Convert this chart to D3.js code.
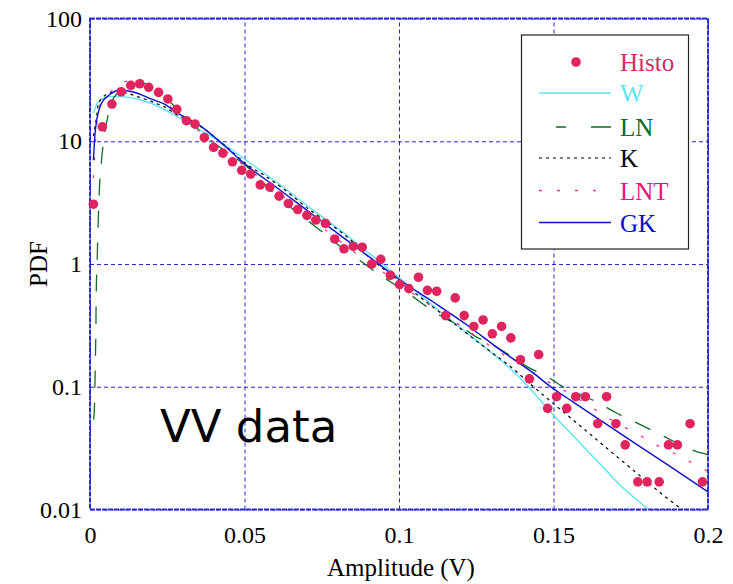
<!DOCTYPE html>
<html lang="en">
<head>
  <meta charset="UTF-8">
  <title>VV data PDF</title>
  <script src="https://d3js.org/d3.v7.min.js"></script>
  <style>
    body { margin: 0; background: #fff; }
    svg { display: block; }
    .tick text { font-family: "Liberation Serif", "Times New Roman", serif; font-size: 24px; fill: #000; }
    .grid line { stroke: #2626d6; stroke-width: 1; stroke-dasharray: 4,3; }
    .curve { fill: none; }
    .lab { font-family: "Liberation Serif", "Times New Roman", serif; font-size: 25px; }
  </style>
</head>
<body>
  <svg id="chart" width="733" height="584"></svg>

  <script>
    // histogram points (amplitude in V, pdf)
    const histoX = [0.0011, 0.0040, 0.0071, 0.0101, 0.0132, 0.0161, 0.0190, 0.0222, 0.0252, 0.0281,
      0.0312, 0.0340, 0.0370, 0.0400, 0.0430, 0.0461, 0.0491, 0.0520, 0.0551, 0.0582,
      0.0612, 0.0642, 0.0672, 0.0702, 0.0731, 0.0762, 0.0792, 0.0822, 0.0852, 0.0881,
      0.0912, 0.0941, 0.0972, 0.1002, 0.1032, 0.1063, 0.1092, 0.1122, 0.1151, 0.1182,
      0.1211, 0.1242, 0.1272, 0.1302, 0.1332, 0.1362, 0.1393, 0.1422, 0.1452, 0.1481,
      0.1510, 0.1543, 0.1572, 0.1603, 0.1643, 0.1672, 0.1702, 0.1732, 0.1773, 0.1803,
      0.1842, 0.1872, 0.1901, 0.1942, 0.1982];
    const histoY = [3.07, 13.1, 20.1, 25.3, 28.5, 29.4, 27.5, 25, 22.1, 18.2,
      14.7, 13.8, 10.7, 8.9, 8.0, 6.8, 5.8, 5.4, 4.41, 4.23,
      3.57, 3.11, 2.78, 2.49, 2.28, 2.14, 1.6, 1.33, 1.39, 1.37,
      1.0, 1.09, 0.81, 0.68, 0.63, 0.78, 0.61, 0.6, 0.38, 0.53,
      0.38, 0.31, 0.35, 0.27, 0.31, 0.25, 0.166, 0.116, 0.183, 0.0667,
      0.083, 0.0667, 0.083, 0.083, 0.05, 0.083, 0.05, 0.0336, 0.0168, 0.0168,
      0.0168, 0.0336, 0.0336, 0.05, 0.0168];

    // fitted curves
    const wX = [0.0011, 0.0022, 0.0032, 0.0052, 0.0071, 0.0113, 0.0162, 0.0201, 0.0275, 0.0340,
      0.0414, 0.0492, 0.0592, 0.0702, 0.0809, 0.0916, 0.1003, 0.1133, 0.1262, 0.1392,
      0.1498, 0.1563, 0.1650, 0.1715, 0.1806];
    const wY = [17, 20, 21.5, 22.8, 23.2, 23, 21.8, 20.2, 16.3, 13,
      10.2, 7.4, 4.88, 3.0, 1.89, 1.15, 0.765, 0.41, 0.226, 0.118,
      0.0595, 0.040, 0.0236, 0.0158, 0.0101];

    const lnX = [0.0012, 0.0015, 0.0017, 0.0019, 0.0020, 0.0023, 0.0026, 0.0030, 0.0038, 0.0045,
      0.0058, 0.0071, 0.0091, 0.0117, 0.0142, 0.0168, 0.0210, 0.0265, 0.0307, 0.0388,
      0.0518, 0.0589, 0.0702, 0.0751, 0.0832, 0.0864, 0.0922, 0.0971, 0.1029, 0.1084,
      0.1159, 0.1191, 0.1256, 0.1288, 0.1366, 0.1414, 0.1479, 0.1531, 0.1586, 0.1641,
      0.1699, 0.1754, 0.1812, 0.1861, 0.1919, 0.1974, 0.2000];
    const lnY = [0.054, 0.078, 0.146, 0.29, 0.54, 1.04, 1.96, 3.85, 7.3, 10.5,
      16, 21, 25, 29, 30.5, 30, 26, 20.2, 15.7, 10.3,
      5.9, 3.9, 2.28, 1.83, 1.26, 1.11, 0.87, 0.72, 0.58, 0.46,
      0.35, 0.32, 0.25, 0.23, 0.175, 0.146, 0.121, 0.1, 0.086, 0.075,
      0.062, 0.053, 0.045, 0.039, 0.033, 0.029, 0.028];

    const kX = [0.0011, 0.0022, 0.0027, 0.0043, 0.0065, 0.0091, 0.0123, 0.0155, 0.0188, 0.0217,
      0.0243, 0.0275, 0.0356, 0.0437, 0.0511, 0.0573, 0.0631, 0.0712, 0.0767, 0.0825,
      0.0906, 0.1003, 0.1126, 0.1239, 0.1300, 0.1354, 0.1435, 0.1494, 0.1575, 0.1629,
      0.1688, 0.1742, 0.1796, 0.1855, 0.1909, 0.1937];
    const kY = [11, 16.3, 20, 23, 24.8, 25.2, 24.5, 23, 21.6, 20.2,
      19, 16.8, 13.3, 9.2, 6.4, 5.1, 4.0, 2.75, 2.2, 1.72,
      1.12, 0.72, 0.415, 0.249, 0.19, 0.151, 0.1, 0.075, 0.0507, 0.0391,
      0.0293, 0.0226, 0.0174, 0.0131, 0.0103, 0.0091];

    const lntX = [0.0011, 0.0014, 0.0016, 0.0022, 0.0026, 0.0032, 0.0049, 0.0065, 0.0087, 0.0107,
      0.0129, 0.0162, 0.0210, 0.0275, 0.0388, 0.0518, 0.0599, 0.0696, 0.0777, 0.0883,
      0.0945, 0.1052, 0.1107, 0.1220, 0.1327, 0.1447, 0.1498, 0.1553, 0.1608, 0.1660,
      0.1715, 0.1773, 0.1828, 0.1887, 0.1948, 0.2000];
    const lntY = [5, 6.8, 8.5, 14, 17, 19.5, 22.5, 25, 28.5, 30.5,
      31, 29.5, 25, 17.5, 10.4, 5.8, 4.0, 2.55, 1.77, 1.11,
      0.87, 0.56, 0.45, 0.29, 0.19, 0.125, 0.104, 0.088, 0.072, 0.059,
      0.049, 0.041, 0.034, 0.029, 0.024, 0.0205];

    const gkX = [0.0011, 0.0016, 0.0023, 0.0032, 0.0043, 0.0059, 0.0086, 0.0104, 0.0140, 0.0200,
      0.0248, 0.0275, 0.0356, 0.0437, 0.0485, 0.0523, 0.0593, 0.0701, 0.0809, 0.0917,
      0.1003, 0.1111, 0.1219, 0.1327, 0.1435, 0.1498, 0.1564, 0.1672, 0.1780, 0.1888, 0.2000];
    const gkY = [7.0, 11.3, 15.5, 19, 21.5, 23.5, 25.8, 26, 25.2, 22,
      19.6, 17.5, 13.4, 9.1, 7.1, 5.9, 4.4, 2.75, 1.72, 1.08,
      0.74, 0.49, 0.32, 0.2, 0.129, 0.097, 0.075, 0.0494, 0.0325, 0.0215, 0.0139];

    const xTicks = [0, 0.05, 0.1, 0.15, 0.2];
    const yTicks = [0.01, 0.1, 1, 10, 100];

    const svg = d3.select("#chart");
    const plotL = 90, plotR = 708, plotT = 18.5, plotB = 509.5;

    const x = d3.scaleLinear().domain([0, 0.2]).range([plotL, plotR]);
    const y = d3.scaleLog().domain([0.01, 100]).range([plotB, plotT]);

    svg.append("defs").append("clipPath").attr("id", "plotclip")
      .append("rect").attr("x", plotL).attr("y", plotT)
      .attr("width", plotR - plotL).attr("height", plotB - plotT);

    // grid + tick labels
    const xAxis = svg.append("g").attr("class", "grid")
      .attr("transform", `translate(0,${plotB})`)
      .call(d3.axisBottom(x).tickValues(xTicks).tickFormat(d3.format("~g"))
        .tickSizeInner(-(plotB - plotT)).tickSizeOuter(0).tickPadding(16));
    xAxis.select(".domain").remove();

    const yAxis = svg.append("g").attr("class", "grid")
      .attr("transform", `translate(${plotL},0)`)
      .call(d3.axisLeft(y).tickValues(yTicks).tickFormat(d3.format("~g"))
        .tickSizeInner(-(plotR - plotL)).tickSizeOuter(0).tickPadding(8));
    yAxis.select(".domain").remove();

    // frame
    svg.append("rect")
      .attr("x", plotL).attr("y", plotT)
      .attr("width", plotR - plotL).attr("height", plotB - plotT)
      .attr("fill", "none").attr("stroke", "#2a2ad4").attr("stroke-width", 2)
      .attr("stroke-dasharray", "5,1");

    const line = d3.line()
      .x(d => x(d[0]))
      .y(d => y(d[1]))
      .curve(d3.curveMonotoneX);

    const series = [
      { name: "W", xs: wX, ys: wY, color: "#5fe3ef", width: 1.4, dash: null },
      { name: "LN", xs: lnX, ys: lnY, color: "#0d6b26", width: 1.3, dash: "17,15" },
      { name: "K", xs: kX, ys: kY, color: "#000000", width: 1.2, dash: "3,4" },
      { name: "LNT", xs: lntX, ys: lntY, color: "#f0348f", width: 1.3, dash: "3,15" },
      { name: "GK", xs: gkX, ys: gkY, color: "#1010d0", width: 1.4, dash: null }
    ];

    const curves = svg.append("g").attr("clip-path", "url(#plotclip)");
    series.forEach(s => {
      curves.append("path")
        .attr("class", "curve")
        .attr("d", line(s.xs.map((v, i) => [v, s.ys[i]])))
        .attr("stroke", s.color)
        .attr("stroke-width", s.width)
        .attr("stroke-dasharray", s.dash);
    });

    // histogram dots
    svg.append("g").selectAll("circle")
      .data(histoX.map((v, i) => [v, histoY[i]]))
      .join("circle")
      .attr("cx", d => x(d[0]))
      .attr("cy", d => y(d[1]))
      .attr("r", 4.8)
      .attr("fill", "#e0245e");

    // axis titles
    svg.append("text").attr("class", "lab")
      .attr("x", (plotL + plotR) / 2 + 2).attr("y", 576)
      .attr("text-anchor", "middle").text("Amplitude (V)");
    svg.append("text").attr("class", "lab")
      .attr("transform", "translate(47,264) rotate(-90)")
      .attr("text-anchor", "middle").text("PDF");

    svg.append("text")
      .attr("x", 160).attr("y", 442)
      .attr("font-family", "'Comic Sans MS', 'DejaVu Sans', sans-serif")
      .attr("font-size", 45)
      .attr("fill", "#000")
      .text("VV data");

    // legend
    const lg = svg.append("g");
    lg.append("rect")
      .attr("x", 521.5).attr("y", 35).attr("width", 167).attr("height", 214)
      .attr("fill", "#fff").attr("stroke", "#222").attr("stroke-width", 1.2);

    const legendItems = [
      { label: "Histo", color: "#d92a5e", type: "dot" },
      { label: "W", color: "#5fe3ef", type: "line", s: series[0] },
      { label: "LN", color: "#0d6b26", type: "line", s: series[1] },
      { label: "K", color: "#000000", type: "line", s: series[2] },
      { label: "LNT", color: "#e8157c", type: "line", s: series[3] },
      { label: "GK", color: "#0a0ad0", type: "line", s: series[4] }
    ];
    const rowY = [62, 93, 127, 158, 190.5, 222.5];
    legendItems.forEach((it, i) => {
      const yy = rowY[i];
      if (it.type === "dot") {
        lg.append("circle").attr("cx", 576).attr("cy", yy).attr("r", 4.8).attr("fill", "#e0245e");
      } else {
        lg.append("line")
          .attr("x1", 539).attr("x2", 611).attr("y1", yy).attr("y2", yy)
          .attr("stroke", it.s.color).attr("stroke-width", it.s.width)
          .attr("stroke-dasharray", it.label === "LN" ? "0,17,10,25,17" : it.s.dash);
      }
      lg.append("text").attr("class", "lab")
        .attr("x", 620).attr("y", yy + 9)
        .attr("fill", it.color)
        .text(it.label);
    });
  </script>
</body>
</html>
